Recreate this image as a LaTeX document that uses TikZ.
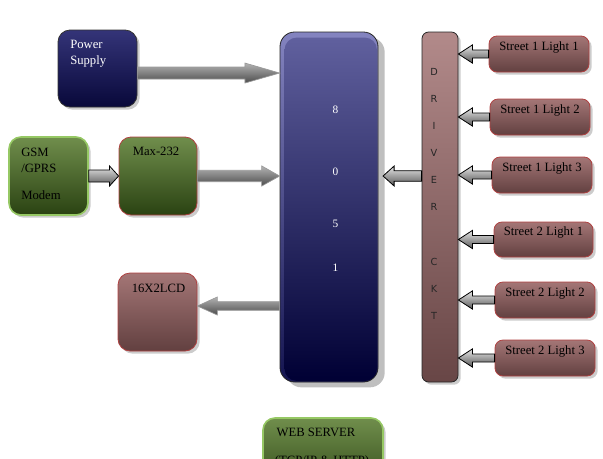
\documentclass[tikz,border=0pt]{standalone}
\usepackage{fontspec}
\setmainfont{Liberation Serif}
\newfontfamily\drvfont{DejaVu Sans}
\usetikzlibrary{calc,shadows}
\definecolor{navyT}{RGB}{52,52,120}
\definecolor{navyB}{RGB}{8,8,58}
\definecolor{mcuT}{RGB}{96,96,158}
\definecolor{mcuB}{RGB}{0,0,52}
\definecolor{mcuL}{RGB}{132,132,192}
\definecolor{mcuLB}{RGB}{20,20,80}
\definecolor{grnT}{RGB}{112,142,76}
\definecolor{grnB}{RGB}{42,66,18}
\definecolor{grnE}{RGB}{150,200,100}
\definecolor{brnT}{RGB}{178,138,138}
\definecolor{brnB}{RGB}{104,70,70}
\definecolor{stT}{RGB}{164,118,118}
\definecolor{stB}{RGB}{98,64,64}
\definecolor{redE}{RGB}{175,65,65}
\newcommand\blockarrow[6]{%
  \path[#1] let \p1=(#2), \p2=(#3) in
    ({\x1},{\y1+#4}) -- ({\x2-(#6)},{\y1+#4}) -- ({\x2-(#6)},{\y1+#5}) -- ({\x2},{\y1})
    -- ({\x2-(#6)},{\y1-#5}) -- ({\x2-(#6)},{\y1-#4}) -- ({\x1},{\y1-#4}) -- cycle;}
\begin{document}
\begin{tikzpicture}[x=0.75pt,y=-0.75pt,
  blk/.style={rounded corners=9pt, inner sep=0pt, line width=0.6pt},
  shd/.style={drop shadow={shadow xshift=2pt,shadow yshift=-2pt,fill=black!40,opacity=0.5}},
  navybox/.style={blk,shd,draw=black!80,top color=navyT,bottom color=navyB},
  grnbox/.style={blk,shd,draw=grnE,line width=1.2pt,top color=grnT,bottom color=grnB},
  grnred/.style={blk,shd,draw=redE,top color=grnT,bottom color=grnB},
  brnbox/.style={blk,shd,draw=redE,top color=stT,bottom color=stB},
  stbox/.style={blk,rounded corners=6pt,shd,draw=redE,top color=stT,bottom color=stB},
  txt/.style={font=\fontsize{9.5}{11}\selectfont,inner sep=0pt},
  drvtxt/.style={font=\drvfont\fontsize{7.3}{8}\selectfont,inner sep=0pt,text=black!85},
  digit/.style={font=\fontsize{8.5}{10}\selectfont,inner sep=0pt,text=white},
  bigarr/.style={top color=black!30,bottom color=black!70,draw=black!40,line width=0.5pt},
  smallarr/.style={top color=black!10,bottom color=black!66,draw=black,line width=0.6pt},
]
\useasboundingbox (0,0) rectangle (603,458);

% boxes
\node[navybox, minimum width=79*0.75pt, minimum height=77*0.75pt] (psu) at (97.5,68.5) {};
\node[grnbox, minimum width=79*0.75pt, minimum height=78*0.75pt] (gsm) at (48.5,176) {};
\node[grnred, minimum width=78*0.75pt, minimum height=78*0.75pt] (max) at (158,176) {};
\node[brnbox, minimum width=79*0.75pt, minimum height=78*0.75pt] (lcd) at (157.5,312) {};
\node[blk, rounded corners=11pt, draw=black!85, top color=mcuL, bottom color=mcuLB,
      drop shadow={shadow xshift=5pt,shadow yshift=-4pt,fill=black!25,opacity=1},
      minimum width=98*0.75pt, minimum height=350*0.75pt] (mcu) at (329,207) {};
\path[rounded corners=9pt, top color=mcuT, bottom color=mcuB]
  ($(mcu.north west)+(5,6)$) rectangle ($(mcu.south east)+(-1.5,-1.5)$);
\node[blk, rounded corners=5pt, draw=black!85, top color=brnT, bottom color=brnB, shd,
      minimum width=36*0.75pt, minimum height=350*0.75pt] (drv) at (440,207) {};
\node[grnbox, minimum width=120*0.75pt, minimum height=82*0.75pt] (web) at (323,459) {};

\node[stbox, minimum width=100*0.75pt, minimum height=36*0.75pt] (s11) at (539,54) {};
\node[stbox, minimum width=100*0.75pt, minimum height=36*0.75pt] (s12) at (540,117) {};
\node[stbox, minimum width=100*0.75pt, minimum height=36*0.75pt] (s13) at (542,175) {};
\node[stbox, minimum width=99*0.75pt, minimum height=35*0.75pt] (s21) at (543.5,239.5) {};
\node[stbox, minimum width=100*0.75pt, minimum height=36*0.75pt] (s22) at (545,300) {};
\node[stbox, minimum width=100*0.75pt, minimum height=36*0.75pt] (s23) at (545,358) {};

% texts
\node[txt, text=white, anchor=west] (psut1) at (70,44) {Power};
\node[txt, text=white, anchor=west] (psut2) at (70,61) {Supply};
\node[txt, anchor=west] (gsmt1) at (21,152) {GSM};
\node[txt, anchor=west] (gsmt2) at (21,168) {/GPRS};
\node[txt, anchor=west] (gsmt3) at (21,195.5) {Modem};
\node[txt] (maxt) at (156,151) {Max-232};
\node[txt] (lcdt) at (158.5,288) {16X2LCD};
\node[txt] (webt1) at (316,432) {WEB SERVER};
\node[txt] (webt2) at (322,461) {(TCP/IP \& HTTP)};
\node[txt] (s11t) at ($(s11.north)+(0,12)$) {Street 1 Light 1};
\node[txt] (s12t) at ($(s12.north)+(0,12)$) {Street 1 Light 2};
\node[txt] (s13t) at ($(s13.north)+(0,12)$) {Street 1 Light 3};
\node[txt] (s21t) at ($(s21.north)+(0,11)$) {Street 2 Light 1};
\node[txt] (s22t) at ($(s22.north)+(0,12)$) {Street 2 Light 2};
\node[txt] (s23t) at ($(s23.north)+(0,12)$) {Street 2 Light 3};

\node[digit] (d8) at (335.5,110) {8};
\node[digit] (d0) at (335.5,172) {0};
\node[digit] (d5) at (335.5,224) {5};
\node[digit] (d1) at (335.5,268) {1};

\node[drvtxt] (dD) at (434,72) {D};
\node[drvtxt] (dR) at (434,99) {R};
\node[drvtxt] (dI) at (434,126) {I};
\node[drvtxt] (dV) at (434,153) {V};
\node[drvtxt] (dE) at (434,180) {E};
\node[drvtxt] (dR2) at (434,207) {R};
\node[drvtxt] (dC) at (434,262) {C};
\node[drvtxt] (dK) at (434,289) {K};
\node[drvtxt] (dT) at (434,316) {T};

% arrows
\coordinate (psuout) at ([yshift=-3.4pt]psu.east);
\coordinate (lcdin) at ([yshift=4.5pt]lcd.east);
\coordinate (mcuR) at ([xshift=3.5pt]mcu.east);
\blockarrow{bigarr}{psuout}{mcu.west}{4.5pt}{7.5pt}{26pt}
\blockarrow{bigarr}{max.east}{mcu.west}{4.3pt}{7.6pt}{13.5pt}
\blockarrow{smallarr}{gsm.east}{max.west}{4.5pt}{7.5pt}{6.8pt}
\blockarrow{smallarr}{drv.west |- max.east}{mcuR}{4pt}{7.5pt}{-8.3pt}
\blockarrow{bigarr}{mcu.west |- lcdin}{lcd.east}{3.2pt}{6.8pt}{-15pt}
\foreach \s in {s11,s12,s13,s21,s22,s23}{
  \blockarrow{smallarr}{\s.west}{drv.east}{3pt}{6.8pt}{-10.5pt}
}
\end{tikzpicture}
\end{document}
